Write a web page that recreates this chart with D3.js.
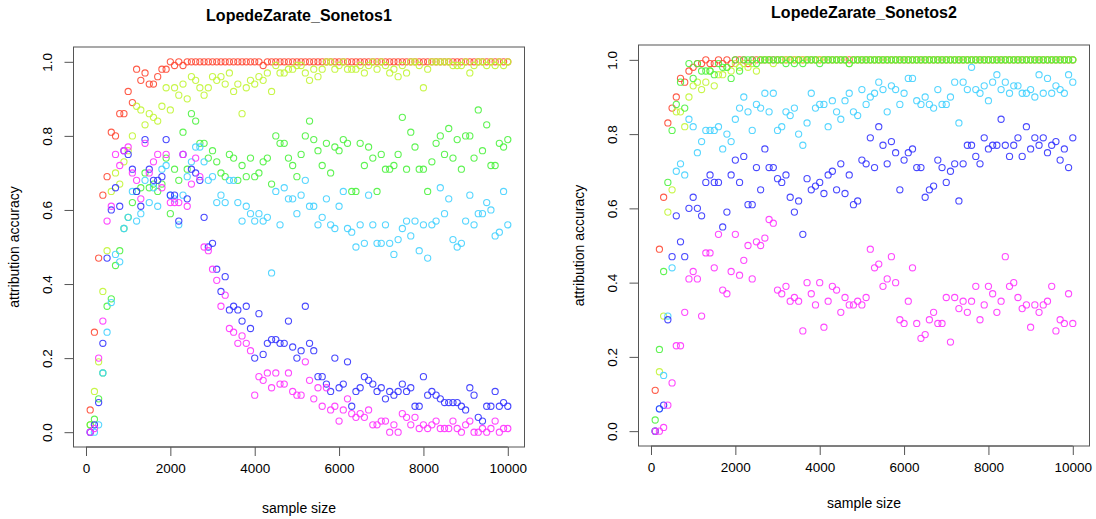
<!DOCTYPE html>
<html>
<head>
<meta charset="utf-8">
<script src="https://cdn.jsdelivr.net/npm/d3@7"></script>
<style>
  html, body { margin: 0; padding: 0; background: #fff; }
  svg { display: block; }
  text { font-family: "Liberation Sans", Arial, Helvetica, sans-serif; fill: #000; }
</style>
</head>
<body>
<svg id="chart" width="1096" height="519"></svg>
<script>
// ---------------- data ----------------
const sampleSizes = [100,200,300,400,500,600,700,800,900,1000,1100,1200,1300,1400,1500,1600,1700,1800,1900,2000,
  2100,2200,2300,2400,2500,2600,2700,2800,2900,3000,3100,3200,3300,3400,3500,3600,3700,3800,3900,4000,
  4100,4200,4300,4400,4500,4600,4700,4800,4900,5000,5100,5200,5300,5400,5500,5600,5700,5800,5900,6000,
  6100,6200,6300,6400,6500,6600,6700,6800,6900,7000,7100,7200,7300,7400,7500,7600,7700,7800,7900,8000,
  8100,8200,8300,8400,8500,8600,8700,8800,8900,9000,9100,9200,9300,9400,9500,9600,9700,9800,9900,10000];

const xTicks = [0, 2000, 4000, 6000, 8000, 10000];
const yTicks = [0, 0.2, 0.4, 0.6, 0.8, 1.0];
const yTickLabels = ["0.0", "0.2", "0.4", "0.6", "0.8", "1.0"];
const titles = ["LopedeZarate_Sonetos1", "LopedeZarate_Sonetos2"];
const xLabel = "sample size";
const yLabel = "attribution accuracy";
const seriesColors = ["#ff4a35", "#c2f536", "#4ef240", "#45d2ff", "#3535ff", "#ff35ff"];

// Panel 1 series
const p1Red = [0.06,0.27,0.47,0.64,0.69,0.81,0.80,0.86,0.86,0.92,0.89,0.98,0.95,0.97,0.94,0.94,0.96,0.98,0.98,1.00,
  0.99,1.00,0.99,1.00,1.00,1.00,1.00,1.00,1.00,1.00,1.00,1.00,1.00,1.00,1.00,1.00,1.00,1.00,1.00,1.00,
  1.00,0.99,1.00,1.00,1.00,1.00,1.00,1.00,1.00,1.00,1.00,1.00,1.00,1.00,1.00,1.00,1.00,1.00,1.00,1.00,
  1.00,1.00,1.00,1.00,1.00,1.00,1.00,1.00,1.00,1.00,1.00,1.00,1.00,1.00,1.00,1.00,1.00,1.00,1.00,1.00,
  1.00,1.00,1.00,1.00,1.00,1.00,1.00,1.00,1.00,1.00,1.00,1.00,1.00,1.00,1.00,1.00,1.00,1.00,1.00,1.00];
const p1YellowGreen = [0.02,0.11,0.19,0.38,0.49,0.65,0.70,0.67,0.73,0.76,0.80,0.88,0.87,0.83,0.86,0.85,0.84,0.88,0.93,0.87,
  0.93,0.91,0.94,0.90,0.96,0.95,0.93,0.91,0.93,0.96,0.95,0.96,0.94,0.97,0.92,0.94,0.86,0.93,0.95,0.94,
  0.96,0.95,0.97,0.92,0.99,0.97,0.97,0.98,0.98,0.99,0.99,0.97,0.95,0.98,0.96,0.98,1.00,1.00,0.98,0.99,
  1.00,0.98,0.98,0.98,0.99,0.97,0.99,1.00,0.98,1.00,0.99,0.97,0.98,0.96,0.99,0.97,1.00,1.00,0.99,0.93,
  0.98,1.00,1.00,1.00,1.00,1.00,0.99,0.99,0.99,1.00,0.97,0.99,1.00,1.00,0.99,1.00,0.99,1.00,0.99,1.00];
const p1Green = [0.02,0.035,0.09,0.16,0.34,0.36,0.45,0.49,0.55,0.58,0.62,0.65,0.66,0.70,0.66,0.67,0.65,0.67,0.74,0.59,
  0.71,0.68,0.81,0.71,0.86,0.84,0.78,0.78,0.74,0.76,0.73,0.70,0.69,0.75,0.74,0.68,0.72,0.69,0.74,0.69,
  0.70,0.73,0.74,0.67,0.80,0.78,0.78,0.74,0.72,0.69,0.75,0.80,0.84,0.79,0.76,0.72,0.78,0.70,0.77,0.76,
  0.79,0.78,0.65,0.65,0.78,0.72,0.77,0.74,0.65,0.75,0.71,0.71,0.72,0.75,0.85,0.71,0.81,0.77,0.71,0.71,
  0.65,0.73,0.78,0.80,0.75,0.82,0.74,0.79,0.71,0.80,0.80,0.74,0.87,0.76,0.83,0.72,0.72,0.78,0.77,0.79];
const p1Cyan = [0.00,0.00,0.02,0.16,0.27,0.35,0.48,0.46,0.55,0.58,0.65,0.57,0.59,0.68,0.62,0.66,0.61,0.71,0.72,0.64,
  0.63,0.56,0.64,0.69,0.73,0.77,0.77,0.73,0.68,0.69,0.62,0.64,0.62,0.68,0.68,0.62,0.57,0.61,0.59,0.57,
  0.59,0.57,0.58,0.43,0.65,0.56,0.66,0.63,0.63,0.59,0.64,0.68,0.61,0.61,0.56,0.58,0.63,0.56,0.55,0.61,
  0.65,0.55,0.54,0.50,0.56,0.51,0.64,0.56,0.51,0.51,0.56,0.51,0.48,0.52,0.55,0.57,0.53,0.57,0.49,0.56,
  0.47,0.56,0.57,0.66,0.59,0.63,0.52,0.50,0.51,0.57,0.64,0.56,0.59,0.59,0.62,0.60,0.53,0.54,0.65,0.56];
const p1Blue = [0.00,0.02,0.08,0.24,0.47,0.60,0.66,0.61,0.76,0.75,0.71,0.65,0.61,0.79,0.71,0.68,0.68,0.69,0.79,0.64,
  0.64,0.57,0.75,0.63,0.71,0.70,0.68,0.58,0.50,0.51,0.44,0.38,0.42,0.33,0.34,0.33,0.30,0.34,0.28,0.20,
  0.32,0.21,0.24,0.25,0.25,0.24,0.24,0.30,0.23,0.20,0.22,0.34,0.24,0.22,0.15,0.15,0.13,0.11,0.20,0.12,
  0.13,0.19,0.07,0.11,0.12,0.15,0.14,0.13,0.11,0.12,0.09,0.11,0.10,0.11,0.13,0.11,0.12,0.07,0.07,0.15,
  0.10,0.11,0.10,0.09,0.08,0.08,0.08,0.08,0.07,0.06,0.12,0.10,0.04,0.03,0.07,0.07,0.11,0.07,0.08,0.07];
const p1Magenta = [0.00,0.01,0.20,0.30,0.57,0.61,0.75,0.72,0.76,0.77,0.70,0.68,0.63,0.78,0.70,0.73,0.75,0.66,0.75,0.62,
  0.62,0.62,0.75,0.61,0.67,0.74,0.69,0.50,0.49,0.44,0.41,0.34,0.37,0.28,0.27,0.24,0.26,0.24,0.22,0.10,
  0.15,0.14,0.16,0.12,0.16,0.13,0.13,0.16,0.11,0.10,0.10,0.19,0.14,0.09,0.12,0.07,0.12,0.06,0.07,0.03,
  0.06,0.09,0.05,0.04,0.05,0.04,0.06,0.02,0.02,0.03,0.03,0.00,0.02,0.00,0.05,0.04,0.02,0.04,0.01,0.02,
  0.01,0.02,0.03,0.01,0.01,0.01,0.03,0.01,0.00,0.02,0.03,0.00,0.00,0.01,0.00,0.01,0.03,0.00,0.01,0.01];

// Panel 2 series
const p2Red = [0.11,0.49,0.63,0.83,0.87,0.90,0.95,0.94,0.97,0.98,0.99,0.99,1.00,0.99,0.99,1.00,0.99,1.00,0.99,1.00,
  1.00,1.00,0.99,1.00,1.00,1.00,1.00,1.00,1.00,1.00,1.00,1.00,1.00,1.00,1.00,1.00,1.00,1.00,1.00,1.00,
  1.00,1.00,1.00,1.00,1.00,1.00,1.00,1.00,1.00,1.00,1.00,1.00,1.00,1.00,1.00,1.00,1.00,1.00,1.00,1.00,
  1.00,1.00,1.00,1.00,1.00,1.00,1.00,1.00,1.00,1.00,1.00,1.00,1.00,1.00,1.00,1.00,1.00,1.00,1.00,1.00,
  1.00,1.00,1.00,1.00,1.00,1.00,1.00,1.00,1.00,1.00,1.00,1.00,1.00,1.00,1.00,1.00,1.00,1.00,1.00,1.00];
const p2YellowGreen = [0.00,0.16,0.31,0.59,0.65,0.86,0.86,0.82,0.90,0.93,0.94,0.92,0.94,0.97,0.93,0.96,0.96,0.98,0.97,0.99,
  0.98,0.99,0.98,0.99,0.97,1.00,1.00,1.00,0.99,1.00,1.00,1.00,1.00,1.00,1.00,1.00,1.00,1.00,1.00,1.00,
  1.00,1.00,1.00,1.00,1.00,1.00,0.99,1.00,1.00,1.00,1.00,1.00,1.00,1.00,1.00,1.00,1.00,1.00,1.00,1.00,
  1.00,1.00,1.00,1.00,1.00,1.00,1.00,1.00,1.00,1.00,1.00,1.00,1.00,1.00,1.00,1.00,1.00,1.00,1.00,1.00,
  1.00,1.00,1.00,1.00,1.00,1.00,1.00,1.00,1.00,1.00,1.00,1.00,1.00,1.00,1.00,1.00,1.00,1.00,1.00,1.00];
const p2Green = [0.03,0.22,0.43,0.67,0.81,0.88,0.94,0.87,0.99,0.95,0.99,0.97,0.97,0.97,0.96,0.99,0.98,0.98,0.95,1.00,
  0.97,1.00,1.00,1.00,0.99,1.00,1.00,1.00,1.00,1.00,1.00,0.99,1.00,0.99,1.00,0.99,1.00,1.00,1.00,0.99,
  1.00,1.00,1.00,1.00,1.00,1.00,0.99,1.00,1.00,1.00,1.00,1.00,1.00,1.00,1.00,1.00,1.00,1.00,1.00,1.00,
  1.00,1.00,1.00,1.00,1.00,1.00,1.00,1.00,1.00,1.00,1.00,1.00,1.00,1.00,1.00,1.00,1.00,1.00,1.00,1.00,
  1.00,1.00,1.00,1.00,1.00,1.00,1.00,1.00,1.00,1.00,1.00,1.00,1.00,1.00,1.00,1.00,1.00,1.00,1.00,1.00];
const p2Cyan = [0.00,0.06,0.15,0.31,0.44,0.70,0.72,0.69,0.84,0.82,0.75,0.78,0.81,0.81,0.81,0.82,0.76,0.80,0.78,0.84,
  0.87,0.90,0.86,0.81,0.88,0.87,0.91,0.86,0.91,0.81,0.82,0.86,0.85,0.87,0.80,0.77,0.83,0.91,0.87,0.88,
  0.88,0.82,0.89,0.86,0.84,0.89,0.91,0.86,0.85,0.92,0.88,0.90,0.91,0.94,0.92,0.86,0.93,0.92,0.88,0.91,
  0.95,0.95,0.89,0.88,0.90,0.88,0.87,0.92,0.88,0.88,0.90,0.94,0.83,0.94,0.92,0.98,0.92,0.91,0.93,0.89,
  0.94,0.96,0.92,0.94,0.91,0.93,0.93,0.91,0.91,0.92,0.90,0.96,0.91,0.95,0.91,0.93,0.92,0.91,0.96,0.94];
const p2Blue = [0.00,0.06,0.07,0.30,0.47,0.58,0.51,0.47,0.60,0.63,0.60,0.58,0.67,0.69,0.67,0.67,0.55,0.59,0.69,0.73,
  0.67,0.74,0.61,0.61,0.71,0.65,0.76,0.71,0.71,0.68,0.67,0.69,0.63,0.59,0.62,0.53,0.68,0.65,0.66,0.67,
  0.64,0.69,0.70,0.65,0.72,0.64,0.69,0.61,0.62,0.73,0.72,0.79,0.71,0.82,0.77,0.72,0.78,0.75,0.65,0.73,
  0.75,0.76,0.71,0.71,0.63,0.65,0.66,0.73,0.71,0.67,0.70,0.72,0.62,0.72,0.77,0.77,0.74,0.72,0.79,0.76,
  0.77,0.77,0.84,0.77,0.74,0.77,0.79,0.74,0.82,0.76,0.79,0.77,0.79,0.75,0.77,0.78,0.73,0.76,0.71,0.79];
const p2Magenta = [0.00,0.00,0.01,0.07,0.13,0.23,0.23,0.32,0.41,0.43,0.41,0.31,0.48,0.48,0.44,0.53,0.38,0.37,0.43,0.53,
  0.42,0.46,0.50,0.41,0.51,0.50,0.52,0.57,0.56,0.38,0.37,0.39,0.35,0.36,0.35,0.27,0.40,0.37,0.34,0.40,
  0.28,0.35,0.39,0.38,0.32,0.36,0.34,0.34,0.35,0.34,0.36,0.49,0.44,0.45,0.39,0.41,0.47,0.40,0.30,0.29,
  0.35,0.44,0.29,0.25,0.26,0.30,0.32,0.29,0.29,0.36,0.24,0.36,0.33,0.35,0.32,0.35,0.39,0.30,0.34,0.39,
  0.37,0.32,0.35,0.47,0.39,0.40,0.36,0.33,0.34,0.28,0.34,0.32,0.34,0.35,0.39,0.27,0.30,0.29,0.37,0.29];

const panels = [
  { title: titles[0], series: [p1Red, p1YellowGreen, p1Green, p1Cyan, p1Blue, p1Magenta],
    left: 73.5, right: 524.5, top: 47, bottom: 447, titleDy: -32, xlabDy: 61 },
  { title: titles[1], series: [p2Red, p2YellowGreen, p2Green, p2Cyan, p2Blue, p2Magenta],
    left: 638.5, right: 1089.5, top: 45, bottom: 446, titleDy: -33, xlabDy: 57 }
];

// ---------------- drawing ----------------
const svg = d3.select("#chart");
const xPad = (10000 - 100) * 0.04, yPad = 0.04;

panels.forEach(p => {
  const x = d3.scaleLinear().domain([100 - xPad, 10000 + xPad]).range([p.left, p.right]);
  const y = d3.scaleLinear().domain([0 - yPad, 1 + yPad]).range([p.bottom, p.top]);
  const g = svg.append("g");

  // points
  p.series.forEach((vals, si) => {
    g.append("g")
      .selectAll("circle")
      .data(vals.map((v, i) => [sampleSizes[i], v]))
      .join("circle")
      .attr("cx", d => x(d[0]))
      .attr("cy", d => y(d[1]))
      .attr("r", 3.1)
      .attr("fill", "none")
      .attr("stroke", seriesColors[si])
      .attr("stroke-width", 1.1)
      .attr("stroke-opacity", 0.9);
  });

  // box
  g.append("rect")
    .attr("x", p.left).attr("y", p.top)
    .attr("width", p.right - p.left).attr("height", p.bottom - p.top)
    .attr("fill", "none").attr("stroke", "#555").attr("stroke-width", 1);

  // x axis
  const xAxis = d3.axisBottom(x).tickValues(xTicks).tickSize(9).tickPadding(7)
    .tickFormat(d3.format("d"));
  const xa = g.append("g").attr("transform", `translate(0,${p.bottom})`).call(xAxis);
  xa.select(".domain").attr("stroke", "#555")
    .attr("d", `M${x(xTicks[0])},0H${x(xTicks[xTicks.length - 1])}`);
  xa.selectAll(".tick line").attr("stroke", "#555");
  xa.selectAll(".tick text").attr("font-size", 13.5).attr("fill", "#000")
    .attr("font-family", "Liberation Sans, Arial, sans-serif");

  // y axis
  const yAxis = d3.axisLeft(y).tickValues(yTicks).tickSize(9)
    .tickFormat((d, i) => yTickLabels[i]);
  const ya = g.append("g").attr("transform", `translate(${p.left},0)`).call(yAxis);
  ya.select(".domain").attr("stroke", "#555")
    .attr("d", `M0,${y(yTicks[0])}V${y(yTicks[yTicks.length - 1])}`);
  ya.selectAll(".tick line").attr("stroke", "#555");
  ya.selectAll(".tick text")
    .attr("font-size", 13.5).attr("fill", "#000")
    .attr("font-family", "Liberation Sans, Arial, sans-serif")
    .attr("x", null).attr("dy", null)
    .attr("text-anchor", "middle")
    .attr("transform", "translate(-22,0) rotate(-90)");

  // title
  g.append("text")
    .attr("x", (p.left + p.right) / 2).attr("y", p.top + p.titleDy)
    .attr("text-anchor", "middle").attr("dy", "0.35em")
    .attr("font-size", 16).attr("font-weight", "bold")
    .text(p.title);

  // x label
  g.append("text")
    .attr("x", (p.left + p.right) / 2).attr("y", p.bottom + p.xlabDy)
    .attr("text-anchor", "middle").attr("dy", "0.35em")
    .attr("font-size", 14)
    .text(xLabel);

  // y label
  g.append("text")
    .attr("transform", `translate(${p.left - 59},${(p.top + p.bottom) / 2}) rotate(-90)`)
    .attr("text-anchor", "middle").attr("dy", "0.35em")
    .attr("font-size", 14)
    .text(yLabel);
});
</script>
</body>
</html>
